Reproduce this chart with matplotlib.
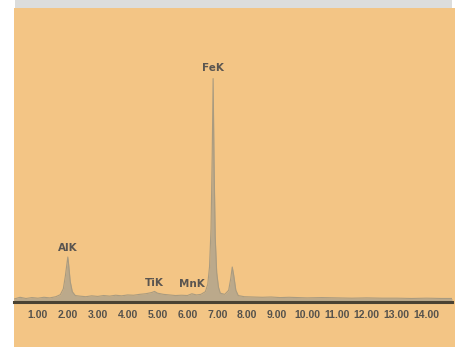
import matplotlib
matplotlib.use("Agg")
import matplotlib.pyplot as plt
from matplotlib.patches import Rectangle

# Spectrum (energy in the chart's tick units, counts in % of axis height)
energy = [0.2, 0.4, 0.6, 0.8, 1.0, 1.2, 1.4, 1.6, 1.75, 1.85, 1.92, 1.97, 2.0, 2.03, 2.08, 2.15,
          2.25, 2.4, 2.6, 2.8, 3.0, 3.2, 3.4, 3.6, 3.8, 4.0, 4.2, 4.4, 4.6, 4.8, 4.9, 5.0, 5.2,
          5.4, 5.6, 5.8, 6.0, 6.15, 6.3, 6.45, 6.6, 6.68, 6.74, 6.79, 6.83, 6.86, 6.89, 6.93, 6.98,
          7.04, 7.1, 7.25, 7.38, 7.45, 7.5, 7.55, 7.62, 7.7, 7.9, 8.2, 8.5, 8.8, 9.1, 9.4, 9.7,
          10.0, 10.5, 11.0, 11.5, 12.0, 12.5, 13.0, 13.5, 14.0, 14.5, 14.85]
counts = [1.0, 1.6, 1.2, 1.5, 1.3, 1.6, 1.4, 1.8, 2.5, 4.5, 9.0, 13.0, 15.3, 12.5, 7.0, 3.5,
          2.2, 2.0, 1.8, 2.1, 1.9, 2.2, 2.0, 2.3, 2.1, 2.4, 2.3, 2.6, 2.8, 3.2, 3.6, 3.0, 2.6,
          2.4, 2.2, 2.3, 2.2, 2.8, 2.4, 2.6, 3.5, 6.0, 12.0, 25.0, 50.0, 76.0, 48.0, 22.0, 10.0,
          5.0, 3.0, 2.6, 4.0, 8.0, 11.9, 9.0, 4.0, 2.2, 1.8, 1.7, 1.6, 1.7, 1.5, 1.6, 1.5,
          1.4, 1.5, 1.4, 1.3, 1.4, 1.3, 1.3, 1.2, 1.3, 1.2, 1.2]

tick_values = [1, 2, 3, 4, 5, 6, 7, 8, 9, 10, 11, 12, 13, 14]
tick_labels = ["1.00", "2.00", "3.00", "4.00", "5.00", "6.00", "7.00", "8.00", "9.00",
               "10.00", "11.00", "12.00", "13.00", "14.00"]

peak_names = ["AlK", "TiK", "MnK", "FeK"]
peak_energy = [2.0, 4.9, 6.15, 6.86]
peak_label_height = [16.8, 4.6, 4.3, 77.8]

W, H = 456, 347
fig = plt.figure(figsize=(W / 100, H / 100), dpi=100, facecolor="white")

# background panels
fig.add_artist(Rectangle((15 / W, 1 - 8 / H), 437 / W, 8 / H, transform=fig.transFigure,
                         facecolor="#dcdddc", edgecolor="none", zorder=-10))
fig.add_artist(Rectangle((14 / W, 0), 442 / W, 1 - 8 / H, transform=fig.transFigure,
                         facecolor="#f3c585", edgecolor="none", zorder=-10))

ax = fig.add_axes([14 / W, (H - 302) / H, 438 / W, 294 / H])
ax.set_zorder(5)
ax.set_facecolor("none")
ax.set_xlim(0.2, 14.85)
ax.set_ylim(0, 100)

ax.fill_between(energy, 0, counts, color="#bba98b", linewidth=0)
ax.plot(energy, counts, color="#a99b80", linewidth=0.8)

for name, e, h in zip(peak_names, peak_energy, peak_label_height):
    ax.text(e, h, name, ha="center", va="bottom", fontsize=7.5, fontweight="bold",
            color="#5a5550", family=["DejaVu Sans"])

for s in ["top", "left", "right"]:
    ax.spines[s].set_visible(False)
ax.spines["bottom"].set_color("#4a4232")
ax.spines["bottom"].set_linewidth(2.2)
ax.set_yticks([])
ax.set_xticks(tick_values)
ax.set_xticklabels(tick_labels, fontsize=7.5, fontweight="bold", color="#55524c",
                   family=["Liberation Sans Narrow", "Liberation Sans", "DejaVu Sans"])
ax.tick_params(axis="x", length=0, pad=6)

fig.savefig("out.png", dpi=100, facecolor="white")
